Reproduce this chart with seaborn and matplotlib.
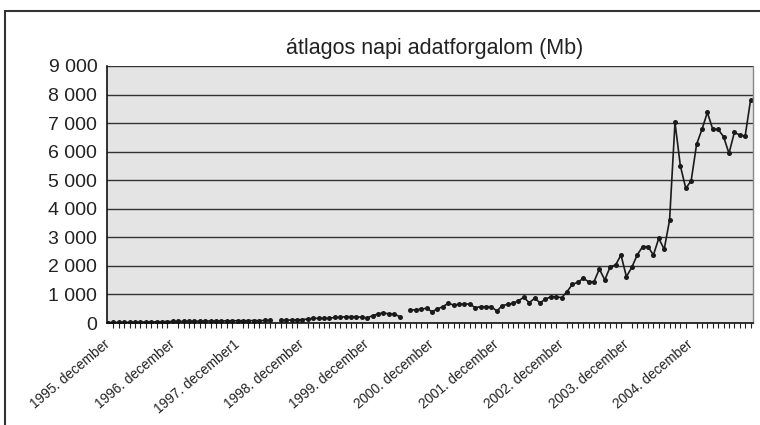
import numpy as np
import pandas as pd
import seaborn as sns
import matplotlib.pyplot as plt
from matplotlib.ticker import FuncFormatter, MultipleLocator
from matplotlib.patches import Rectangle

# havi értékek (Mb), minden sor decembertől novemberig
y1995 = [15, 18, 20, 22, 25, 28, 30, 35, 38, 40, 45, 50]
y1996 = [55, 55, 60, 62, 65, 65, 70, 70, 72, 75, 75, 78]
y1997 = [80, 80, 82, 85, 85, 88, 90, np.nan, 95, 100, 105, 110]
y1998 = [120, 140, 163, 163, 163, 163, 198, 198, 222, 222, 222, 198]
y1999 = [180, 257, 315, 362, 315, 315, 222, np.nan, 460, 455, 490, 513]
y2000 = [397, 490, 572, 688, 630, 653, 665, 665, 537, 572, 572, 572]
y2001 = [420, 607, 653, 688, 780, 900, 712, 864, 712, 829, 922, 922]
y2002 = [887, 1097, 1354, 1424, 1564, 1447, 1447, 1891, 1506, 1972, 2031, 2381]
y2003 = [1622, 1949, 2381, 2673, 2673, 2381, 2965, 2579, 3606, 7026, 5497, 4715]
y2004 = [4984, 6256, 6781, 7376, 6781, 6781, 6524, 5941, 6676, 6582, 6548, 7808]

tick_labels = ["1995. december", "1996. december", "1997. december1",
               "1998. december", "1999. december", "2000. december",
               "2001. december", "2002. december", "2003. december",
               "2004. december"]

title = "átlagos napi adatforgalom (Mb)"

traffic = y1995 + y1996 + y1997 + y1998 + y1999 + y2000 + y2001 + y2002 + y2003 + y2004
df = pd.DataFrame({"month": np.arange(len(traffic)), "traffic": traffic})
# hiányzó hónapoknál szakadjon meg a vonal
df["segment"] = df["traffic"].isna().cumsum()
df = df.dropna()

sns.set_style("white")
plt.rcParams["font.family"] = ["Liberation Sans", "DejaVu Sans"]

fig = plt.figure(figsize=(7.6, 4.25), dpi=100)
ax = fig.add_axes([107 / 760, 1 - 323 / 425, 646 / 760, 257 / 425])
ax.set_facecolor("#e4e4e4")

ax.yaxis.grid(True, color="#333333", lw=1.0)
ax.set_axisbelow(True)

sns.lineplot(data=df, x="month", y="traffic", units="segment", estimator=None,
             color="#1a1a1a", lw=1.2, marker="o", markersize=3.6,
             markeredgewidth=0, ax=ax)

ax.set_xlim(-0.2, 119.45)
ax.set_ylim(0, 9000)
ax.yaxis.set_major_locator(MultipleLocator(1000))
ax.yaxis.set_major_formatter(FuncFormatter(lambda v, p: f"{v:,.0f}".replace(",", " ")))

ax.set_xticks(np.arange(0, 120, 12))
ax.set_xticklabels(tick_labels, rotation=40, ha="right", va="center",
                   rotation_mode="anchor", fontsize=9.8, color="#222222")
ax.xaxis.set_minor_locator(MultipleLocator(1))
ax.tick_params(axis="x", which="major", direction="out", length=11, width=1,
               color="#222222", pad=3)
ax.tick_params(axis="x", which="minor", direction="out", length=3.5, width=0.8,
               color="#222222", bottom=True)
ax.tick_params(axis="y", which="major", direction="out", length=4, width=1,
               color="#222222", labelsize=14, labelcolor="#222222", pad=3)

ax.set_xlabel("")
ax.set_ylabel("")

for side in ["left", "bottom"]:
    ax.spines[side].set_color("#111111")
    ax.spines[side].set_linewidth(1.2)
ax.spines["top"].set_visible(False)
ax.spines["right"].set_color("#888888")
ax.spines["right"].set_linewidth(1.0)

fig.text(0.572, 0.885, title, ha="center", va="center", fontsize=15.5, color="#222222")

# külső keret
fig.add_artist(Rectangle((5 / 760, -0.1), 1.2, 1 - 11 / 425 + 0.1,
                         transform=fig.transFigure, fill=False,
                         ec="#333333", lw=1.5, clip_on=False))

fig.savefig("out.png", dpi=100)
